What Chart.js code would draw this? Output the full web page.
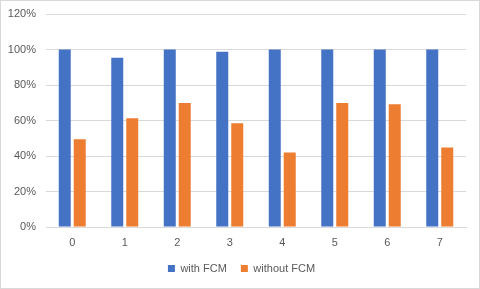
<!DOCTYPE html>
<html lang="en">
<head>
    <meta charset="UTF-8">
    <title>FCM comparison</title>
    <script src="https://cdn.jsdelivr.net/npm/chart.js"></script>
    <style>
        html, body { margin: 0; padding: 0; background: #fff; }
        .chart-box {
            width: 480px;
            height: 289px;
            box-sizing: border-box;
            border: 1px solid #d9d9d9;
            position: relative;
        }
    </style>
</head>
<body>
    <div class="chart-box">
        <canvas id="fcmChart" width="478" height="287"></canvas>
    </div>

    <script>
        // data
        const categories = ['0', '1', '2', '3', '4', '5', '6', '7'];
        const withFcm = [100, 95.3, 100, 98.7, 100, 100, 100, 100];
        const withoutFcm = [49.4, 61.3, 69.8, 58.5, 42.0, 69.8, 69.2, 44.8];
        const yTicks = [0, 20, 40, 60, 80, 100, 120];

        const textColor = '#595959';
        const gridColor = '#d9d9d9';
        const font = { family: 'Liberation Sans', size: 11 };

        // legend is centred on the whole canvas in the original, not the padded area
        const shiftLegend = {
            id: 'shiftLegend',
            afterLayout(chart) {
                chart.legend.left += 8;
                chart.legend.right += 8;
            }
        };

        new Chart(document.getElementById('fcmChart'), {
            type: 'bar',
            data: {
                labels: categories,
                datasets: [
                    {
                        label: 'with FCM',
                        data: withFcm,
                        backgroundColor: '#4472c4',
                        categoryPercentage: 0.571,
                        barPercentage: 0.8
                    },
                    {
                        label: 'without FCM',
                        data: withoutFcm,
                        backgroundColor: '#ed7d31',
                        categoryPercentage: 0.571,
                        barPercentage: 0.8
                    }
                ]
            },
            plugins: [shiftLegend],
            options: {
                responsive: false,
                animation: false,
                layout: { padding: { top: 0, right: 13, bottom: 4, left: 0 } },
                plugins: {
                    tooltip: { enabled: false },
                    legend: {
                        position: 'bottom',
                        labels: {
                            color: textColor,
                            font: font,
                            boxWidth: 7,
                            boxHeight: 7,
                            padding: 14
                        }
                    }
                },
                scales: {
                    x: {
                        grid: { display: false, drawTicks: false },
                        border: { color: gridColor },
                        ticks: { color: textColor, font: font, padding: 9 },
                        afterFit: s => { s.height = 22; }
                    },
                    y: {
                        min: yTicks[0],
                        max: yTicks[yTicks.length - 1],
                        afterBuildTicks: s => { s.ticks = yTicks.map(v => ({ value: v })); },
                        grid: { color: gridColor, drawTicks: false },
                        border: { display: false },
                        ticks: {
                            color: textColor,
                            font: { family: 'Liberation Sans', size: 11, lineHeight: 0.55 },
                            padding: 10,
                            callback: v => v + '%'
                        },
                        afterFit: s => { s.width = 45; }
                    }
                }
            }
        });
    </script>
</body>
</html>
